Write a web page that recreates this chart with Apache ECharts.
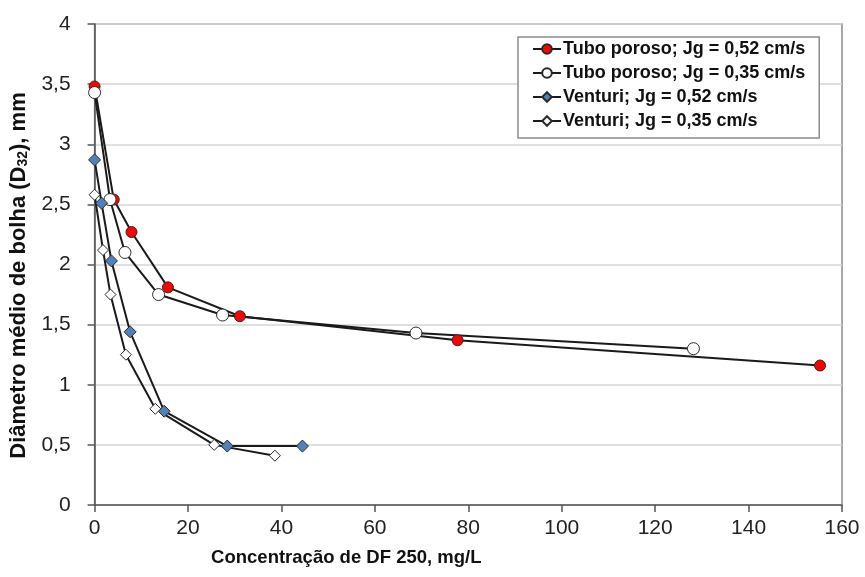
<!DOCTYPE html>
<html>
<head>
<meta charset="utf-8">
<script src="https://cdn.jsdelivr.net/npm/echarts@6/dist/echarts.min.js"></script>
<style>
html,body{margin:0;padding:0;background:#fff;}
#chart{width:865px;height:577px;}
</style>
</head>
<body>
<div id="chart"></div>
<script>
// Data
const tuboX052 = [0, 4.1, 7.9, 15.7, 31.1, 77.7, 155.3];
const tuboY052 = [3.48, 2.54, 2.27, 1.81, 1.57, 1.37, 1.16];
const tuboX035 = [0, 3.3, 6.5, 13.7, 27.4, 68.8, 128.2];
const tuboY035 = [3.43, 2.54, 2.10, 1.75, 1.58, 1.43, 1.30];
const ventX052 = [0, 1.5, 3.6, 7.6, 14.9, 28.4, 44.5];
const ventY052 = [2.87, 2.51, 2.03, 1.44, 0.78, 0.49, 0.49];
const ventX035 = [0, 1.8, 3.4, 6.7, 13.0, 25.6, 38.6];
const ventY035 = [2.58, 2.12, 1.75, 1.25, 0.80, 0.50, 0.41];
const seriesNames = [
  'Tubo poroso; Jg = 0,52 cm/s',
  'Tubo poroso; Jg = 0,35 cm/s',
  'Venturi; Jg = 0,52 cm/s',
  'Venturi; Jg = 0,35 cm/s'
];
const xTitle = 'Concentração de DF 250, mg/L';

function pairs(xs, ys) { return xs.map((x, i) => [x, ys[i]]); }

const font = '"Liberation Sans", Arial, sans-serif';
const lineStyle = { color: '#1a1a1a', width: 2 };

function mk(name, xs, ys, symbol, size, fill) {
  return {
    name: name,
    type: 'line',
    data: pairs(xs, ys),
    symbol: symbol,
    symbolSize: size,
    showSymbol: true,
    lineStyle: lineStyle,
    itemStyle: { color: fill, borderColor: '#2a2a2a', borderWidth: 1 },
    emphasis: { disabled: true },
    animation: false
  };
}

const chart = echarts.init(document.getElementById('chart'), null, { renderer: 'canvas' });
chart.setOption({
  backgroundColor: '#fff',
  animation: false,
  textStyle: { fontFamily: font },
  grid: {
    left: 94, right: 23, top: 24, bottom: 72,
    show: true, borderColor: '#8c8c8c', borderWidth: 1.5, backgroundColor: '#fff'
  },
  legend: {
    orient: 'vertical',
    left: 518, top: 37,
    padding: [3, 14, 8, 14],
    itemWidth: 28, itemHeight: 12,
    itemGap: 6,
    backgroundColor: '#fff',
    borderColor: '#8c8c8c', borderWidth: 1.5,
    textStyle: { fontFamily: font, fontSize: 18, lineHeight: 18, fontWeight: 'bold', color: '#111', padding: [0, 0, 0, -3] },
    data: seriesNames
  },
  xAxis: {
    type: 'value', min: 0, max: 160, interval: 20,
    name: xTitle, nameLocation: 'middle', nameGap: 43,
    nameTextStyle: { fontFamily: font, fontSize: 18.5, fontWeight: 'bold', color: '#111', padding: [0, 244, 0, 0] },
    axisLine: { show: true, onZero: false, lineStyle: { color: '#555', width: 1.5 } },
    axisTick: { show: true, length: 7, lineStyle: { color: '#555', width: 1.5 } },
    axisLabel: { fontFamily: font, fontSize: 21, color: '#222', margin: 13 },
    splitLine: { show: false }
  },
  yAxis: {
    type: 'value', min: 0, max: 4, interval: 0.5,
    name: '{a|Diâmetro médio de bolha (D}{s|32}{a|), mm}',
    nameLocation: 'middle', nameGap: 46,
    nameTextStyle: {
      padding: [0, 22, 0, 0],
      rich: {
        a: { fontFamily: font, fontSize: 22, fontWeight: 'bold', color: '#111' },
        s: { fontFamily: font, fontSize: 14, fontWeight: 'bold', color: '#111', verticalAlign: 'bottom', padding: [9, 0, 0, 0] }
      }
    },
    axisLine: { show: true, lineStyle: { color: '#555', width: 1.5 } },
    axisTick: { show: true, length: 7, lineStyle: { color: '#555', width: 1.5 } },
    axisLabel: {
      fontFamily: font, fontSize: 21, color: '#222', margin: 24,
      formatter: v => String(v).replace('.', ',')
    },
    splitLine: { show: true, lineStyle: { color: '#d4d4d4', width: 1.5 } }
  },
  series: [
    mk(seriesNames[0], tuboX052, tuboY052, 'circle', 11, '#ff0000'),
    mk(seriesNames[1], tuboX035, tuboY035, 'circle', 12, '#ffffff'),
    mk(seriesNames[2], ventX052, ventY052, 'diamond', 12, '#4f81bd'),
    mk(seriesNames[3], ventX035, ventY035, 'diamond', 11, '#ffffff')
  ]
});
</script>
</body>
</html>
